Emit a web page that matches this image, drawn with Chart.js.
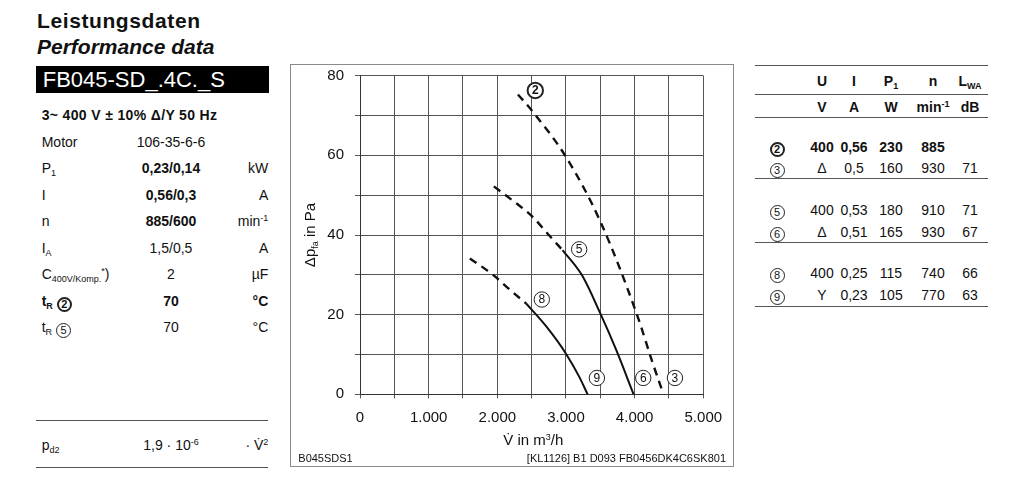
<!DOCTYPE html>
<html><head><meta charset="utf-8">
<script src="https://cdn.jsdelivr.net/npm/chart.js@4.4.0/dist/chart.umd.min.js"></script>
<style>
body{margin:0;width:1024px;height:480px;position:relative;background:#fff;font-family:"Liberation Sans",Arial,sans-serif;color:#111;overflow:hidden}
.a{position:absolute;white-space:nowrap;line-height:16px;font-size:14px}
.c{display:inline-block;box-sizing:border-box;width:15px;height:15px;border:1px solid #222;border-radius:50%;text-align:center;line-height:13px;font-size:11px;font-weight:normal;vertical-align:-2px}
.cb{border-width:2px;line-height:11px;font-weight:bold}
sub{font-size:9px;vertical-align:-3px;line-height:0}
sup{font-size:9px;vertical-align:5px;line-height:0}
.hl{position:absolute;height:1px;background:#555}
#frame{position:absolute;left:290px;top:64px;width:444px;height:403px;box-sizing:border-box;border:1px solid #8a8a8a;pointer-events:none}
#cv{position:absolute;left:290px;top:64px}
</style></head>
<body>
<div class="a" style="left:37px;top:9.4px;font-size:21px;line-height:24px;font-weight:bold;letter-spacing:0.6px">Leistungsdaten</div>
<div class="a" style="left:37px;top:35px;font-size:21px;line-height:24px;font-weight:bold;font-style:italic">Performance data</div>
<div style="position:absolute;left:35.7px;top:66px;width:233.6px;height:27.3px;background:#000"></div>
<div class="a" style="left:42.7px;top:66px;font-size:22px;line-height:27.3px;color:#fff">FB045-SD_.4C._S</div>
<div class="a" style="left:41.7px;top:106.5px;font-size:14px;font-weight:bold;letter-spacing:0.35px">3~ 400 V ± 10% Δ/Y 50 Hz</div>
<div id="spec"></div>
<div class="hl" style="left:36px;top:420px;width:232.3px"></div>
<div class="a" style="left:41.7px;top:437.2px">p<sub>d2</sub></div>
<div class="a" style="left:121px;top:437.2px;width:100px;text-align:center">1,9 · 10<sup>-6</sup></div>
<div class="a" style="right:755.7px;top:437.2px;text-align:right">· V&#775;<sup>2</sup></div>
<div class="hl" style="left:36px;top:467px;width:232.3px"></div>

<canvas id="cv" width="444" height="403"></canvas>
<div id="frame"></div>
<div class="a" style="left:310px;top:235.3px;font-size:15px;transform:translate(-50%,-50%) rotate(-90deg)">Δp<sub>fa</sub> in Pa</div>
<div class="a" style="left:533.3px;top:440px;font-size:15px;transform:translate(-50%,-50%)">V&#775; in m<sup>3</sup>/h</div>
<div class="a" style="left:298.3px;top:452px;font-size:11px;line-height:13px">B045SDS1</div>
<div class="a" style="right:298px;top:452px;font-size:11px;line-height:13px">[KL1126] B1 D093 FB0456DK4C6SK801</div>

<div id="tbl"></div>

<script>
// ---- chart data ----
const xTicks = [0, 1000, 2000, 3000, 4000, 5000];
const yTicks = [0, 20, 40, 60, 80];

const curve2V = [2300, 2500, 3000, 3500, 4040, 4260, 4390];
const curve2P = [75.3, 71.3, 59.6, 43.4, 19.7, 8.0, 1.5];
const curve5DashV = [1950, 2250, 2500, 2750, 2950];
const curve5DashP = [52.2, 48.3, 44.8, 40.0, 36.2];
const curve5SolidV = [2950, 3240, 3500, 3730, 3985];
const curve5SolidP = [36.2, 29.7, 20.3, 11.2, 0];
const curve8DashV = [1600, 1930, 2200, 2420];
const curve8DashP = [34.1, 30.1, 26.0, 22.8];
const curve8SolidV = [2420, 2710, 3000, 3190, 3315];
const curve8SolidP = [22.8, 17.1, 10.2, 4.5, 0];

const markerLabels = ['2', '5', '8', '9', '6', '3'];
const markerV = [2553, 3192, 2648, 3450, 4125, 4587];
const markerP = [76.3, 36.4, 23.8, 4.1, 4.1, 4.1];
const markerBold = [true, false, false, false, false, false];

// ---- left spec table ----
const specLabels = ['Motor', 'P<sub>1</sub>', 'I', 'n', 'I<sub>A</sub>', 'C<sub>400V/Komp.</sub><sup>*</sup>)', 't<sub>R</sub> <span class="c cb">2</span>', 't<sub>R</sub> <span class="c">5</span>'];
const specValues = ['106-35-6-6', '0,23/0,14', '0,56/0,3', '885/600', '1,5/0,5', '2', '70', '70'];
const specUnits = ['', 'kW', 'A', 'min<sup>-1</sup>', 'A', 'µF', '°C', '°C'];
const specValueBold = [false, true, true, true, false, false, true, false];
const specRowBold = [false, false, false, false, false, false, true, false];

// ---- right table ----
const tblIds = ['2', '3', '5', '6', '8', '9'];
const tblU = ['400', 'Δ', '400', 'Δ', '400', 'Y'];
const tblI = ['0,56', '0,5', '0,53', '0,51', '0,25', '0,23'];
const tblP = ['230', '160', '180', '165', '115', '105'];
const tblN = ['885', '930', '910', '930', '740', '770'];
const tblL = ['', '71', '71', '67', '66', '63'];
const tblRowY = [147.3, 167.7, 210, 231.7, 273.3, 295];
const tblLinesY = [65, 94.3, 117.3, 178.3, 241.7, 306];

// build left spec
let h = '';
specLabels.forEach((lab, i) => {
  const top = 133.85 + 26.5 * i;
  const rb = specRowBold[i] ? 'font-weight:bold;' : '';
  h += `<div class="a" style="left:41.7px;top:${top}px;${rb}">${lab}</div>`;
  h += `<div class="a" style="left:121px;width:100px;text-align:center;top:${top}px;${specValueBold[i] ? 'font-weight:bold;' : ''}">${specValues[i]}</div>`;
  if (specUnits[i]) h += `<div class="a" style="right:755.7px;text-align:right;top:${top}px;${rb}">${specUnits[i]}</div>`;
});
document.getElementById('spec').innerHTML = h;

// build right table
const cols = [822, 854, 891, 933, 970];
function cell(x, y, html, bold) {
  return `<div class="a" style="left:${x - 40}px;width:80px;text-align:center;top:${y - 8}px;${bold ? 'font-weight:bold;' : ''}">${html}</div>`;
}
let t = '';
tblLinesY.forEach(y => { t += `<div class="hl" style="left:755px;width:233px;top:${y}px"></div>`; });
const hdr1 = ['U', 'I', 'P<sub>1</sub>', 'n', 'L<sub>WA</sub>'];
const hdr2 = ['V', 'A', 'W', 'min<sup>-1</sup>', 'dB'];
cols.forEach((x, j) => { t += cell(x, 80.7, hdr1[j], true); t += cell(x, 106.7, hdr2[j], true); });
tblIds.forEach((id, i) => {
  const y = tblRowY[i];
  const b = i === 0;
  t += `<div class="a" style="left:769.5px;top:${y - 9}px"><span class="c${b ? ' cb' : ''}">${id}</span></div>`;
  [tblU[i], tblI[i], tblP[i], tblN[i], tblL[i]].forEach((v, j) => { if (v) t += cell(cols[j], y, v, b); });
});
document.getElementById('tbl').innerHTML = t;

// ---- chart ----
const pts = (vs, ps) => vs.map((v, i) => ({ x: v, y: ps[i] }));
const lineDs = (data, dashed) => ({
  data, borderColor: '#111', borderWidth: dashed ? 2.4 : 2, borderDash: dashed ? [8, 6] : [],
  pointRadius: 0, cubicInterpolationMode: 'monotone', fill: false
});

const markerPlugin = {
  id: 'markers',
  afterDatasetsDraw(chart) {
    const { ctx, scales: { x, y } } = chart;
    ctx.save();
    markerLabels.forEach((lab, i) => {
      const px = x.getPixelForValue(markerV[i]);
      const py = y.getPixelForValue(markerP[i]);
      ctx.beginPath();
      ctx.arc(px, py, 7.7, 0, Math.PI * 2);
      ctx.fillStyle = '#fff';
      ctx.fill();
      ctx.lineWidth = markerBold[i] ? 2 : 1;
      ctx.strokeStyle = '#222';
      ctx.stroke();
      ctx.fillStyle = '#111';
      ctx.font = (markerBold[i] ? 'bold ' : '') + '12px "Liberation Sans", Arial, sans-serif';
      ctx.textAlign = 'center';
      ctx.textBaseline = 'middle';
      ctx.fillText(lab, px, py + 0.5);
    });
    ctx.restore();
  }
};

const fmtX = v => v === 0 ? '0' : (v / 1000) + '.000';

new Chart(document.getElementById('cv'), {
  type: 'line',
  data: {
    datasets: [
      lineDs(pts(curve2V, curve2P), true),
      lineDs(pts(curve5DashV, curve5DashP), true),
      lineDs(pts(curve5SolidV, curve5SolidP), false),
      lineDs(pts(curve8DashV, curve8DashP), true),
      lineDs(pts(curve8SolidV, curve8SolidP), false)
    ]
  },
  options: {
    responsive: false,
    animation: false,
    layout: { padding: { left: 0, top: 11.7, right: 30.7, bottom: 0 } },
    plugins: { legend: { display: false }, tooltip: { enabled: false } },
    scales: {
      x: {
        type: 'linear', min: 0, max: 5000,
        ticks: { stepSize: 500, autoSkip: false, maxRotation: 0, padding: 11, color: '#111',
          font: { size: 15, family: '"Liberation Sans", Arial, sans-serif' },
          callback: v => xTicks.includes(v) ? fmtX(v) : '' },
        grid: { color: '#555', lineWidth: 1, tickLength: 4, tickColor: '#555' },
        border: { color: '#333', width: 1 },
        afterFit: s => { s.height = 72.7; s.paddingLeft = 0; s.paddingRight = 0; }
      },
      y: {
        type: 'linear', min: 0, max: 80,
        ticks: { stepSize: 10, autoSkip: false, padding: 11, color: '#111',
          font: { size: 15, family: '"Liberation Sans", Arial, sans-serif' },
          callback: v => yTicks.includes(v) ? String(v) : '' },
        grid: { color: '#555', lineWidth: 1, tickLength: 5, tickColor: '#555' },
        border: { color: '#333', width: 1 },
        afterFit: s => { s.width = 70; s.paddingTop = 0; s.paddingBottom = 0; }
      }
    }
  },
  plugins: [markerPlugin]
});
</script>
</body></html>
